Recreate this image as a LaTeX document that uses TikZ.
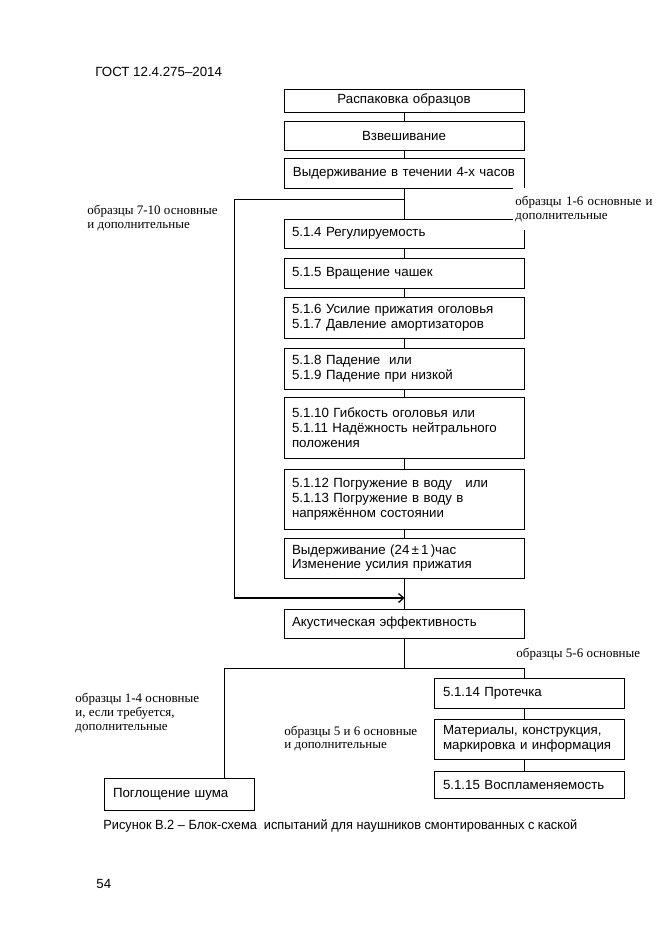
\documentclass[tikz,border=0pt]{standalone}
\usepackage{fontspec}
\setmainfont{Liberation Serif}
\setsansfont{Liberation Sans}
\newfontfamily\capfont[FakeStretch=0.96]{Liberation Sans}
\usetikzlibrary{arrows.meta}
\begin{document}
\begin{tikzpicture}[x=1pt,y=-1pt,
  line width=0.9pt,
  box/.style={draw, line width=0.9pt, inner ysep=0pt, inner xsep=8pt,
    font=\sffamily\fontsize{13.3}{14.8}\selectfont},
  mainbox/.style={box, minimum width=240pt, text width=224pt},
  mainc/.style={mainbox, align=center},
  mainl/.style={mainbox, align=left},
  rbox/.style={box, inner xsep=9pt, minimum width=190pt, text width=172pt, align=left},
  lbl/.style={inner sep=0pt, align=left, anchor=west,
    font=\rmfamily\fontsize{13}{13.8}\selectfont},
  plain/.style={inner sep=0pt, anchor=west, font=\sffamily\fontsize{13.3}{15}\selectfont},
  flow/.style={line width=0.9pt},
  bold/.style={line width=1.9pt, -{Straight Barb[length=5pt,width=9pt,line width=1.3pt]}}
]
\useasboundingbox (0,0) rectangle (661,936);
\fill[white] (0,0) rectangle (661,936);

% header
\node[plain] (hdr) at (95,72) {ГОСТ 12.4.275–2014};

% main column
\node[mainc, minimum height=23pt] (b1) at (404,100.5) {Распаковка образцов};
\node[mainc, minimum height=29pt] (b2) at (404,135.5) {Взвешивание};
\node[mainc, minimum height=30pt] (b3) at (404,173) {Выдерживание в течении 4-х часов};
\node[mainl, minimum height=29pt] (b4) at (404,233.5) {5.1.4 Регулируемость};
\node[mainl, minimum height=30pt] (b5) at (404,273) {5.1.5 Вращение чашек};
\node[mainl, minimum height=41pt] (b6) at (404,317.5) {5.1.6 Усилие прижатия оголовья\\5.1.7 Давление амортизаторов};
\node[mainl, minimum height=41pt] (b7) at (404,368.5) {5.1.8 Падение\ \ или\\5.1.9 Падение при низкой};
\node[mainl, minimum height=61pt] (b8) at (404,427.5) {5.1.10 Гибкость оголовья или\\5.1.11 Надёжность нейтрального\\положения};
\node[mainl, minimum height=60pt] (b9) at (404,499) {5.1.12 Погружение в воду\ \ \ или\\5.1.13 Погружение в воду в\\напряжённом состоянии};
\node[mainl, minimum height=40pt] (b10) at (404,558) {Выдерживание (24\,±\,1\,)час\\Изменение усилия прижатия};
\node[mainl, minimum height=29pt] (b11) at (404,623.5) {Акустическая эффективность};

% bottom boxes
\node[rbox, minimum height=30pt] (r1) at (529,693) {5.1.14 Протечка};
\node[rbox, minimum height=40pt] (r2) at (529,739) {Материалы, конструкция,\\маркировка и информация};
\node[rbox, minimum height=27pt] (r3) at (529,784.5) {5.1.15 Воспламеняемость};
\node[box, inner xsep=9pt, minimum width=150pt, text width=132pt, align=left, minimum height=32pt] (pog) at (179,794) {Поглощение шума};

% connectors main
\draw[flow] (b1.south) -- (b2.north);
\draw[flow] (b2.south) -- (b3.north);
\draw[flow] (b3.south) -- (b4.north);
\draw[flow] (b4.south) -- (b5.north);
\draw[flow] (b5.south) -- (b6.north);
\draw[flow] (b6.south) -- (b7.north);
\draw[flow] (b7.south) -- (b8.north);
\draw[flow] (b8.south) -- (b9.north);
\draw[flow] (b9.south) -- (b10.north);
\draw[flow] (b10.south) -- (b11.north);

% left bypass
\coordinate (jA) at (404,199);
\coordinate (jL) at (234,199);
\coordinate (jLb) at (234,598);
\coordinate (jB) at (404.5,598);
\draw[flow] (jA) -- (jL) -- (jLb);
\draw[bold] (jLb) -- (jB);

% bottom split
\coordinate (jC) at (404,668);
\coordinate (jCL) at (224,668);
\coordinate (jCR) at (524,668);
\draw[flow] (b11.south) -- (jC);
\draw[flow] (jCL) -- (jCR);
\draw[flow] (jCL) -- (jCL |- pog.north);
\draw[flow] (jCR) -- (jCR |- r1.north);
\draw[flow] (r1.south -| jCR) -- (r2.north -| jCR);
\draw[flow] (r2.south -| jCR) -- (r3.north -| jCR);

% labels
\node[lbl] (l710) at (87,218) {образцы 7-10 основные\\и дополнительные};
\node[lbl, fill=white, anchor=north west, inner xsep=2pt, text width=144pt, minimum height=42pt] (l16) at (513,188) {образцы 1-6 основные и\\дополнительные};
\node[lbl] (l56) at (516,654) {образцы 5-6 основные};
\node[lbl] (l14) at (75,713) {образцы 1-4 основные\\и, если требуется,\\дополнительные};
\node[lbl] (lmid) at (284,738.5) {образцы 5 и 6 основные\\и дополнительные};

% caption and page number
\node[inner sep=0pt, anchor=west, font=\capfont\fontsize{13.3}{15}\selectfont] (cap) at (103,826) {Рисунок В.2 – Блок-схема\ \ испытаний для наушников смонтированных с каской};
\node[plain] (pg) at (96,884) {54};
\end{tikzpicture}
\end{document}
